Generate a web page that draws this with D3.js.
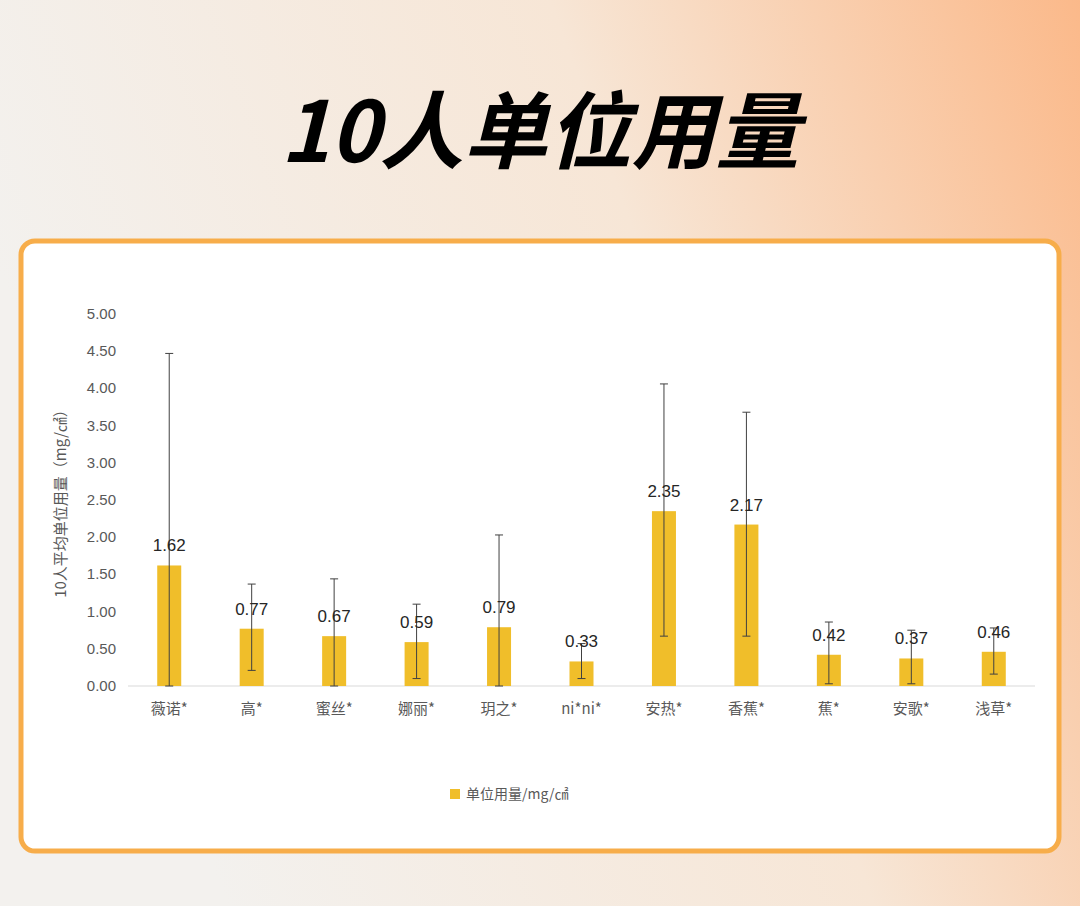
<!DOCTYPE html>
<html><head><meta charset="utf-8">
<script src="https://cdn.jsdelivr.net/npm/d3@7/dist/d3.min.js"></script>
<style>body{margin:0;}</style>
</head><body>
<svg id="chart" width="1080" height="906"></svg>
<script>
var categories = ['薇诺*', '高*', '蜜丝*', '娜丽*', '玥之*', 'ni*ni*', '安热*', '香蕉*', '蕉*', '安歌*', '浅草*'];
var values = [1.62, 0.77, 0.67, 0.59, 0.79, 0.33, 2.35, 2.17, 0.42, 0.37, 0.46];
var upper = [4.47, 1.37, 1.44, 1.10, 2.03, 0.57, 4.06, 3.68, 0.86, 0.75, 0.78];
var lower = [0, 0.21, 0, 0.10, 0, 0.10, 0.67, 0.67, 0.03, 0.03, 0.16];
var yTicks = [0, 0.5, 1, 1.5, 2, 2.5, 3, 3.5, 4, 4.5, 5];

var svg = d3.select('#chart');
var defs = svg.append('defs');
var bg = defs.append('linearGradient').attr('id', 'bg')
  .attr('x1', '0').attr('y1', '0.3').attr('x2', '1').attr('y2', '0');
bg.append('stop').attr('offset', '0').attr('stop-color', '#f3f1ee');
bg.append('stop').attr('offset', '0.55').attr('stop-color', '#f7e6d6');
bg.append('stop').attr('offset', '1').attr('stop-color', '#fbb98a');

svg.append('rect').attr('width', 1080).attr('height', 906).style('fill', 'url(#bg)');

svg.append('text')
  .attr('x', 540).attr('y', 162)
  .style('text-anchor', 'middle')
  .style('font-family', '"Noto Sans CJK SC", sans-serif')
  .style('font-size', '84px')
  .style('font-weight', 'bold')
  .style('font-style', 'italic')
  .style('fill', '#000000')
  .text('10人单位用量');

svg.append('rect')
  .attr('x', 21).attr('y', 241).attr('width', 1038).attr('height', 610)
  .attr('rx', 14)
  .style('fill', '#ffffff')
  .style('stroke', '#f7ad4a')
  .style('stroke-width', 5);

var x = d3.scaleBand().domain(categories).range([128, 1035]);
var y = d3.scaleLinear().domain([0, 5]).range([686, 314]);

svg.selectAll('.tick-label').data(yTicks).enter().append('text')
  .attr('x', 116).attr('y', function(d) { return y(d) + 5; })
  .style('text-anchor', 'end')
  .style('font-family', 'Arial, "Liberation Sans", sans-serif')
  .style('font-size', '15px').style('fill', '#595959')
  .text(function(d) { return d.toFixed(2); });

svg.append('line').attr('x1', 128).attr('x2', 1035).attr('y1', y(0)).attr('y2', y(0))
  .attr('stroke', '#d9d9d9');

svg.append('text')
  .attr('transform', 'translate(66,' + 500 + ') rotate(-90)')
  .style('text-anchor', 'middle')
  .style('font-family', '"Noto Sans CJK SC", sans-serif')
  .style('font-size', '15px').style('fill', '#595959')
  .text('10人平均单位用量（mg/㎠）');

var bw = 24;
svg.selectAll('.bar').data(values).enter().append('rect')
  .attr('x', function(d, i) { return x(categories[i]) + x.bandwidth() / 2 - bw / 2; })
  .attr('y', function(d) { return y(d); })
  .attr('width', bw)
  .attr('height', function(d) { return y(0) - y(d); })
  .style('fill', '#f0be2a');

var cx = function(i) { return x(categories[i]) + x.bandwidth() / 2; };
values.forEach(function(v, i) {
  var g = svg.append('g').attr('stroke', '#404040').attr('stroke-width', 1);
  g.append('line').attr('x1', cx(i)).attr('x2', cx(i)).attr('y1', y(upper[i])).attr('y2', y(lower[i]));
  g.append('line').attr('x1', cx(i) - 4).attr('x2', cx(i) + 4).attr('y1', y(upper[i])).attr('y2', y(upper[i]));
  g.append('line').attr('x1', cx(i) - 4).attr('x2', cx(i) + 4).attr('y1', y(lower[i])).attr('y2', y(lower[i]));
});

svg.selectAll('.val').data(values).enter().append('text')
  .attr('x', function(d, i) { return cx(i); })
  .attr('y', function(d) { return y(d) - 14; })
  .style('text-anchor', 'middle')
  .style('font-family', 'Arial, "Liberation Sans", sans-serif')
  .style('font-size', '17px').style('fill', '#262626')
  .text(function(d) { return d.toFixed(2); });

svg.selectAll('.cat').data(categories).enter().append('text')
  .attr('x', function(d) { return x(d) + x.bandwidth() / 2; })
  .attr('y', 714)
  .style('text-anchor', 'middle')
  .style('font-family', '"Noto Sans CJK SC", sans-serif')
  .style('font-size', '15px').style('fill', '#595959')
  .text(function(d) { return d; });

svg.append('rect').attr('x', 450).attr('y', 789).attr('width', 10).attr('height', 10).style('fill', '#f0be2a');
svg.append('text').attr('x', 466).attr('y', 799)
  .style('font-family', '"Noto Sans CJK SC", sans-serif')
  .style('font-size', '14px').style('fill', '#595959')
  .text('单位用量/mg/㎠');
</script>
</body></html>
